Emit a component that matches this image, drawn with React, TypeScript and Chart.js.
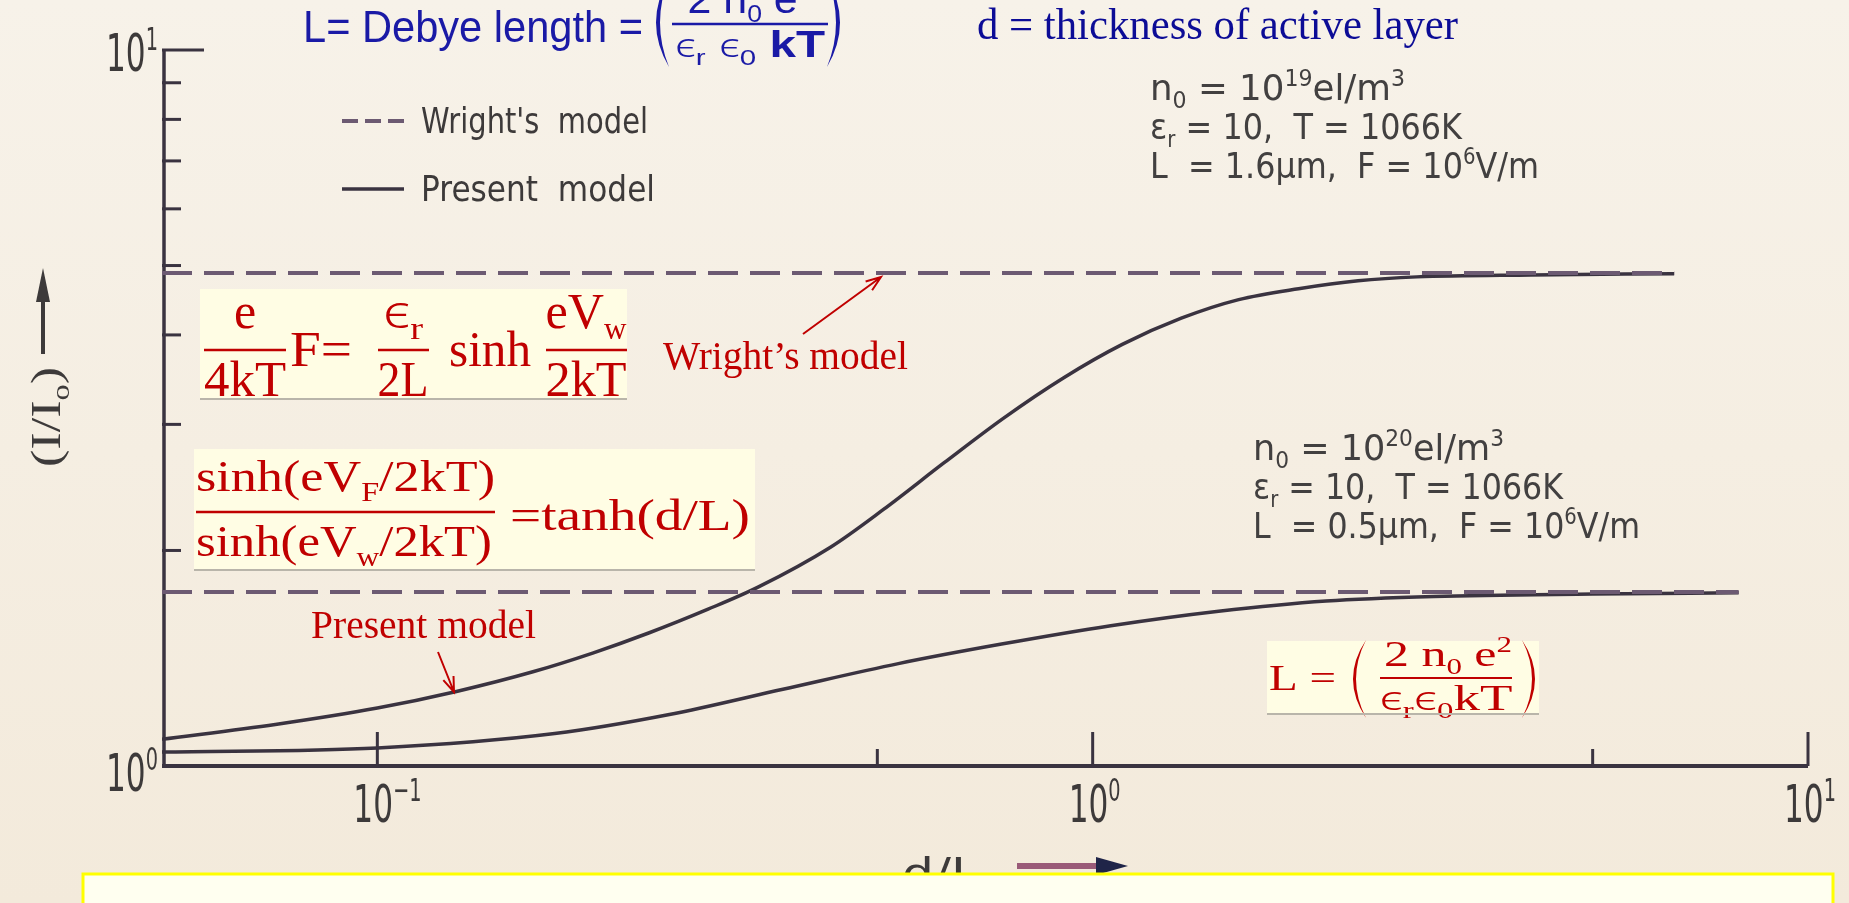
import React, { useEffect, useRef } from 'react';
import { Chart, registerables } from 'chart.js';

Chart.register(...registerables);

// Normalised current I/I0 against thickness ratio d/L (log-log)
// Present model, n0 = 1e19 el/m^3, L = 1.6 um
const presentHighD = [0.05, 0.072, 0.1, 0.129, 0.165, 0.2, 0.24, 0.29, 0.34, 0.43, 0.51, 0.62, 0.75, 0.91, 1.1, 1.33, 1.6, 1.94, 2.35, 2.84, 4.1, 6.5];
const presentHighI = [1.09, 1.143, 1.205, 1.271, 1.354, 1.438, 1.535, 1.656, 1.776, 2.021, 2.282, 2.652, 3.059, 3.483, 3.88, 4.221, 4.481, 4.641, 4.761, 4.821, 4.851, 4.87];

// Present model, n0 = 1e20 el/m^3, L = 0.5 um
const presentLowD = [0.05, 0.1, 0.177, 0.256, 0.369, 0.535, 0.746, 1.06, 1.5, 2.12, 3.0, 5.0, 8.0];
const presentLowI = [1.046, 1.06, 1.11, 1.18, 1.28, 1.39, 1.48, 1.57, 1.645, 1.7, 1.725, 1.738, 1.745];

// Wright's model: thickness independent
const wrightHighD = [0.05, 6.5];
const wrightHighI = [4.88, 4.88];
const wrightLowD = [0.05, 8];
const wrightLowI = [1.75, 1.75];

// Axis ticks
const xTickValues = [0.1, 0.5, 1, 5, 10];
const xTickExponents = ['−1', '', '0', '', '1'];
const yMinorTicks = [2, 3, 4, 5, 6, 7, 8, 9];
const yMajorTicks = [1, 10];
const yTickExponents = ['0', '1'];

// Parameter captions
const paramsHigh = ['n0 = 1019 el/m3', 'εr = 10, T = 1066K', 'L = 1.6μm, F = 106V/m'];
const paramsLow = ['n0 = 1020 el/m3', 'εr = 10, T = 1066K', 'L = 0.5μm, F = 106V/m'];

const INK = '#3a3340';
const DASH = '#6c5a72';
const RED = '#c00000';
const BLUE = '#1a1aa6';
const NAVY = '#0c0c96';
const BOX = '#fffde4';
const SANS = '"DejaVu Sans", sans-serif';
const SERIF = '"Liberation Serif", "Times New Roman", "Noto Sans", serif';
const ARIAL = '"Liberation Sans", Arial, "Noto Sans", sans-serif';
const GREEK = '"Noto Sans", "DejaVu Sans", sans-serif';

// 'g' draws a Greek symbol in a lighter face
type Kind = 'n' | 'sub' | 'sup' | 'b' | 'g';
type Run = [string, Kind?];

interface RunOpts {
  size: number;
  family: string;
  color: string;
  width?: number;
  sx?: number;
  align?: 'left' | 'center' | 'right';
}

function drawRuns(ctx: CanvasRenderingContext2D, runs: Run[], x: number, y: number, o: RunOpts) {
  const pieces = runs.map(([t, k = 'n']) => {
    const small = k === 'sub' || k === 'sup';
    const fs = small ? o.size * 0.62 : k === 'g' ? o.size * 0.9 : o.size;
    const font = k === 'b' ? `bold ${fs}px ${o.family}` : k === 'g' ? `300 ${fs}px ${GREEK}` : `${fs}px ${o.family}`;
    ctx.font = font;
    const dy = k === 'sub' ? o.size * 0.22 : k === 'sup' ? -o.size * 0.4 : 0;
    return { t, font, w: ctx.measureText(t).width, dy };
  });
  const total = pieces.reduce((a, p) => a + p.w, 0);
  const sx = o.width ? o.width / total : o.sx ?? 1;
  const drawn = total * sx;
  const start = o.align === 'center' ? x - drawn / 2 : o.align === 'right' ? x - drawn : x;
  ctx.save();
  ctx.fillStyle = o.color;
  ctx.textAlign = 'left';
  ctx.textBaseline = 'alphabetic';
  ctx.translate(start, y);
  ctx.scale(sx, 1);
  let cx = 0;
  for (const p of pieces) {
    ctx.font = p.font;
    ctx.fillText(p.t, cx, p.dy);
    cx += p.w;
  }
  ctx.restore();
}

function hline(ctx: CanvasRenderingContext2D, x1: number, x2: number, y: number, color: string, w: number) {
  ctx.save();
  ctx.strokeStyle = color;
  ctx.lineWidth = w;
  ctx.beginPath();
  ctx.moveTo(x1, y);
  ctx.lineTo(x2, y);
  ctx.stroke();
  ctx.restore();
}

// Crescent-shaped bracket; dir = -1 for "(", +1 for ")"
function paren(ctx: CanvasRenderingContext2D, apex: number, top: number, bottom: number, dir: number, color: string, thick: number) {
  const w = 13;
  const mid = (top + bottom) / 2;
  const ex = apex - dir * w;
  ctx.save();
  ctx.fillStyle = color;
  ctx.beginPath();
  ctx.moveTo(ex, top);
  ctx.quadraticCurveTo(apex + dir * w, mid, ex, bottom);
  ctx.quadraticCurveTo(apex + dir * w - dir * 2 * thick, mid, ex, top);
  ctx.fill();
  ctx.restore();
}

function arrow(ctx: CanvasRenderingContext2D, x1: number, y1: number, x2: number, y2: number, color: string) {
  const a = Math.atan2(y2 - y1, x2 - x1);
  const h = 16;
  ctx.save();
  ctx.strokeStyle = color;
  ctx.lineWidth = 2;
  ctx.beginPath();
  ctx.moveTo(x1, y1);
  ctx.lineTo(x2, y2);
  ctx.moveTo(x2 - h * Math.cos(a - 0.35), y2 - h * Math.sin(a - 0.35));
  ctx.lineTo(x2, y2);
  ctx.lineTo(x2 - h * Math.cos(a + 0.35), y2 - h * Math.sin(a + 0.35));
  ctx.stroke();
  ctx.restore();
}

function formulaBox(ctx: CanvasRenderingContext2D, x: number, y: number, w: number, h: number) {
  ctx.fillStyle = BOX;
  ctx.fillRect(x, y, w, h);
}

function boxRule(ctx: CanvasRenderingContext2D, x: number, y: number, w: number) {
  hline(ctx, x, x + w, y, '#b9b5aa', 2);
}

// Split a caption with "n0", "1019"-style exponents into runs
function captionRuns(line: string): Run[] {
  if (line.startsWith('n0')) {
    const exp = line.slice(7, 9);
    return [['n'], ['0', 'sub'], [' = 10'], [exp, 'sup'], ['el/m'], ['3', 'sup']];
  }
  if (line.startsWith('εr')) {
    return [['ε'], ['r', 'sub'], [line.slice(2).replace(', ', ',  ')]];
  }
  const i = line.indexOf('106');
  return [[line.slice(0, i).replace('L =', 'L  =').replace(', ', ',  ') + '10'], ['6', 'sup'], [line.slice(i + 3)]];
}

const paperPlugin = {
  id: 'paper',
  beforeDraw(chart: any) {
    const ctx: CanvasRenderingContext2D = chart.ctx;
    const g = ctx.createLinearGradient(0, 0, 0, chart.height);
    g.addColorStop(0, '#f7f2e9');
    g.addColorStop(1, '#f3eadb');
    ctx.save();
    ctx.fillStyle = g;
    ctx.fillRect(0, 0, chart.width, chart.height);
    ctx.restore();
  },
};

const framePlugin = {
  id: 'frame',
  beforeDatasetsDraw(chart: any) {
    const ctx: CanvasRenderingContext2D = chart.ctx;
    const xs = chart.scales.x;
    const ys = chart.scales.y;
    const { left, right, top, bottom } = chart.chartArea;
    ctx.save();
    ctx.strokeStyle = INK;
    ctx.lineCap = 'butt';

    // axis lines
    ctx.lineWidth = 3.5;
    ctx.beginPath();
    ctx.moveTo(left + 2, top);
    ctx.lineTo(left + 2, bottom);
    ctx.stroke();
    ctx.lineWidth = 4;
    ctx.beginPath();
    ctx.moveTo(left, bottom);
    ctx.lineTo(right, bottom);
    ctx.stroke();

    // y ticks (inside)
    ctx.lineWidth = 3;
    for (const v of yMinorTicks) {
      const y = ys.getPixelForValue(v);
      ctx.beginPath();
      ctx.moveTo(left, y);
      ctx.lineTo(left + 19, y);
      ctx.stroke();
    }
    const yTop = ys.getPixelForValue(yMajorTicks[1]);
    ctx.beginPath();
    ctx.moveTo(left, yTop);
    ctx.lineTo(left + 42, yTop);
    ctx.stroke();

    // x ticks (inside)
    xTickValues.forEach((v) => {
      const x = xs.getPixelForValue(v);
      const major = Math.abs(Math.log10(v) - Math.round(Math.log10(v))) < 1e-9;
      ctx.beginPath();
      ctx.moveTo(x, bottom);
      ctx.lineTo(x, bottom - (major ? 34 : 17));
      ctx.stroke();
    });

    // tick labels
    const lab = { size: 52, family: SANS, color: '#3d3a3a', sx: 0.6 };
    xTickValues.forEach((v, i) => {
      if (!xTickExponents[i]) return;
      const x = xs.getPixelForValue(v);
      drawRuns(ctx, [['10'], [xTickExponents[i], 'sup']], x - 24, 822, lab);
    });
    yMajorTicks.forEach((v, i) => {
      const y = ys.getPixelForValue(v);
      // bottom label sits below its tick, top label just under the long tick
      drawRuns(ctx, [['10'], [yTickExponents[i], 'sup']], left - 4, y + (i === 0 ? 25 : 21), { ...lab, align: 'right' });
    });

    // axis titles
    ctx.save();
    ctx.translate(60, 417);
    ctx.rotate(-Math.PI / 2);
    drawRuns(ctx, [['(I/I'], ['o', 'sub'], [')']], 0, 0, { size: 42, family: SERIF, color: '#3d3a3a', width: 100, align: 'center' });
    ctx.restore();
    ctx.fillStyle = '#3d3a3a';
    ctx.fillRect(41, 298, 4, 56);
    ctx.beginPath();
    ctx.moveTo(43, 268);
    ctx.lineTo(36, 302);
    ctx.lineTo(50, 302);
    ctx.closePath();
    ctx.fill();

    drawRuns(ctx, [['d/L']], 902, 887, { size: 40, family: SANS, color: '#3d3a3a', width: 77 });
    ctx.fillStyle = '#9a5a78';
    ctx.fillRect(1017, 863, 82, 6);
    ctx.fillStyle = '#1f2448';
    ctx.beginPath();
    ctx.moveTo(1128, 866);
    ctx.lineTo(1096, 857);
    ctx.lineTo(1096, 875);
    ctx.closePath();
    ctx.fill();

    // legend
    ctx.strokeStyle = DASH;
    ctx.lineWidth = 4;
    ctx.setLineDash([16, 7]);
    ctx.beginPath();
    ctx.moveTo(342, 121);
    ctx.lineTo(404, 121);
    ctx.stroke();
    ctx.setLineDash([]);
    ctx.strokeStyle = INK;
    ctx.lineWidth = 3.5;
    ctx.beginPath();
    ctx.moveTo(342, 189);
    ctx.lineTo(404, 189);
    ctx.stroke();
    drawRuns(ctx, [["Wright's  model"]], 421, 133, { size: 36, family: SANS, color: '#3d3a3a', width: 227 });
    drawRuns(ctx, [['Present  model']], 421, 201, { size: 36, family: SANS, color: '#3d3a3a', width: 234 });

    // parameter captions
    const pw1 = [255, 312, 389];
    const pb1 = [100, 139, 178];
    paramsHigh.forEach((line, i) => {
      drawRuns(ctx, captionRuns(line), 1150, pb1[i], { size: 36, family: SANS, color: '#424040', width: pw1[i] });
    });
    const pw2 = [251, 310, 387];
    const pb2 = [460, 499, 538];
    paramsLow.forEach((line, i) => {
      drawRuns(ctx, captionRuns(line), 1253, pb2[i], { size: 36, family: SANS, color: '#424040', width: pw2[i] });
    });
    ctx.restore();
  },
};

const overlayPlugin = {
  id: 'overlay',
  afterDraw(chart: any) {
    const ctx: CanvasRenderingContext2D = chart.ctx;
    ctx.save();

    // heading: Debye length
    drawRuns(ctx, [['L= Debye length =']], 303, 42, { size: 44, family: ARIAL, color: BLUE, width: 340 });
    paren(ctx, 656, -22, 67, -1, BLUE, 4);
    paren(ctx, 840, -22, 67, 1, BLUE, 4);
    drawRuns(ctx, [['2 n'], ['0', 'sub'], [' e'], ['2', 'sup']], 750, 13, { size: 40, family: ARIAL, color: BLUE, width: 125, align: 'center' });
    hline(ctx, 672, 828, 24, BLUE, 2.5);
    drawRuns(ctx, [['ϵ', 'g'], ['r', 'sub'], [' '], ['ϵ', 'g'], ['0', 'sub'], [' '], ['kT', 'b']], 750, 57, { size: 36, family: ARIAL, color: BLUE, width: 150, align: 'center' });

    drawRuns(ctx, [['d = thickness of active layer']], 977, 39, { size: 44, family: SERIF, color: NAVY, width: 481 });

    // formula: field condition
    formulaBox(ctx, 200, 289, 427, 110);
    const f1 = { size: 50, family: SERIF, color: RED };
    drawRuns(ctx, [['e']], 245, 328, { ...f1, align: 'center' });
    hline(ctx, 204, 286, 350, RED, 2.5);
    drawRuns(ctx, [['4kT']], 245, 396, { ...f1, width: 82, align: 'center' });
    drawRuns(ctx, [['F=']], 290, 366, { ...f1, width: 62 });
    drawRuns(ctx, [['ϵ', 'g'], ['r', 'sub']], 403, 328, { ...f1, width: 40, align: 'center' });
    hline(ctx, 378, 429, 350, RED, 2.5);
    drawRuns(ctx, [['2L']], 403, 396, { ...f1, width: 51, align: 'center' });
    drawRuns(ctx, [['sinh']], 449, 366, { ...f1, width: 82 });
    drawRuns(ctx, [['eV'], ['w', 'sub']], 586, 328, { ...f1, width: 81, align: 'center' });
    hline(ctx, 546, 627, 350, RED, 2.5);
    drawRuns(ctx, [['2kT']], 586, 396, { ...f1, width: 81, align: 'center' });
    boxRule(ctx, 200, 399, 427);

    // formula: ratio of potentials
    formulaBox(ctx, 194, 449, 561, 121);
    const f2 = { size: 44, family: SERIF, color: RED };
    drawRuns(ctx, [['sinh(eV'], ['F', 'sub'], ['/2kT)']], 196, 491, { ...f2, width: 299 });
    hline(ctx, 196, 495, 512, RED, 2.5);
    drawRuns(ctx, [['sinh(eV'], ['w', 'sub'], ['/2kT)']], 196, 556, { ...f2, width: 296 });
    drawRuns(ctx, [['=tanh(d/L)']], 510, 530, { ...f2, width: 240 });
    boxRule(ctx, 194, 570, 561);

    // formula: Debye length
    formulaBox(ctx, 1267, 641, 272, 73);
    const f3 = { size: 36, family: SERIF, color: RED };
    drawRuns(ctx, [['L =']], 1269, 690, { ...f3, width: 67 });
    paren(ctx, 1353, 640, 718, -1, RED, 3);
    paren(ctx, 1535, 640, 718, 1, RED, 3);
    drawRuns(ctx, [['2 n'], ['0', 'sub'], [' e'], ['2', 'sup']], 1448, 666, { ...f3, width: 128, align: 'center' });
    hline(ctx, 1380, 1512, 678, RED, 2);
    drawRuns(ctx, [['ϵ', 'g'], ['r', 'sub'], ['ϵ', 'g'], ['0', 'sub'], ['kT']], 1446, 710, { ...f3, width: 133, align: 'center' });
    boxRule(ctx, 1267, 714, 272);

    // callouts
    drawRuns(ctx, [['Wright’s model']], 663, 369, { size: 40, family: SERIF, color: RED, width: 245 });
    arrow(ctx, 803, 334, 881, 277, RED);
    drawRuns(ctx, [['Present model']], 311, 638, { size: 40, family: SERIF, color: RED, width: 225 });
    arrow(ctx, 438, 652, 454, 692, RED);

    // note panel along the bottom edge
    ctx.fillStyle = '#fffff0';
    ctx.fillRect(83, 874, 1750, 40);
    ctx.strokeStyle = '#ffff00';
    ctx.lineWidth = 3;
    ctx.strokeRect(83, 874, 1750, 60);
    ctx.restore();
  },
};

export default function App() {
  const ref = useRef<HTMLCanvasElement | null>(null);

  useEffect(() => {
    if (!ref.current) return;
    const pts = (xs: number[], ys: number[]) => xs.map((x, i) => ({ x, y: ys[i] }));
    const curve = { borderColor: INK, borderWidth: 3.5, pointRadius: 0, fill: false, cubicInterpolationMode: 'monotone' as const };
    const dashed = { borderColor: DASH, borderWidth: 4, borderDash: [30, 12], pointRadius: 0, fill: false };
    const chart = new Chart(ref.current, {
      type: 'line',
      data: {
        datasets: [
          { label: "Wright's model (n0 = 1e19)", data: pts(wrightHighD, wrightHighI), ...dashed },
          { label: "Wright's model (n0 = 1e20)", data: pts(wrightLowD, wrightLowI), ...dashed },
          { label: 'Present model (n0 = 1e19)', data: pts(presentHighD, presentHighI), ...curve },
          { label: 'Present model (n0 = 1e20)', data: pts(presentLowD, presentLowI), ...curve },
        ],
      },
      options: {
        animation: false,
        responsive: false,
        devicePixelRatio: 1,
        layout: { padding: { left: 162, right: 41, top: 50, bottom: 137 } },
        scales: {
          x: { type: 'logarithmic', min: 0.05, max: 10, display: false },
          y: { type: 'logarithmic', min: 1, max: 10, display: false },
        },
        plugins: { legend: { display: false }, tooltip: { enabled: false } },
      },
      plugins: [paperPlugin, framePlugin, overlayPlugin],
    });
    return () => chart.destroy();
  }, []);

  return (
    <div style={{ position: 'absolute', left: 0, top: 0, width: 1849, height: 903, overflow: 'hidden' }}>
      <canvas ref={ref} width={1849} height={903} style={{ display: 'block' }} />
    </div>
  );
}
